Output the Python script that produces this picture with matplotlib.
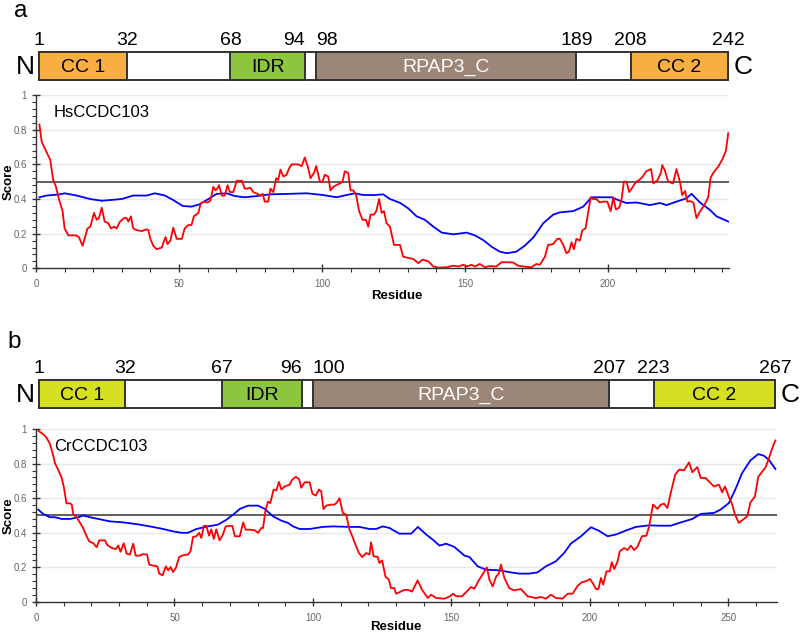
import matplotlib
matplotlib.use("Agg")
import matplotlib.pyplot as plt
from matplotlib.patches import Rectangle
from matplotlib.ticker import MultipleLocator

plt.rcParams['font.family'] = ['Liberation Sans', 'DejaVu Sans']

# ---- panel a : HsCCDC103 ----
hs_name = "HsCCDC103"
hs_len = 242
hs_bounds = [1, 32, 68, 94, 98, 189, 208, 242]
hs_domains = [("CC 1", 1, 32), ("IDR", 68, 94), ("RPAP3_C", 98, 189), ("CC 2", 208, 242)]

hs_iupred_res = [1.2, 2, 3.7, 5, 6, 7, 8, 9.3, 10, 11.3, 12.5, 14, 15, 16.3, 18, 19, 20.3, 21.2, 22, 23,
                 24, 25.3, 26.2, 27.3, 28.2, 29.4, 30.8, 31.7, 32.3, 33.2, 34, 35.2, 37, 38.7, 39.3, 40, 41,
                 42.2, 44, 44.5, 45.3, 46, 47, 48, 49.2, 51, 52, 53.3, 54.4, 55.2, 56.8, 57.6, 58.7, 60, 61,
                 62, 62.8, 63.4, 64, 65, 66, 67, 67.8, 69, 70.2, 72, 73, 74, 75, 76, 77.4, 78.5, 79.3, 80,
                 81.2, 82, 83, 84, 84.7, 85.5, 86.5, 87.6, 88.6, 89.4, 90.6, 91.7, 92.9, 94, 95.2, 96, 97.2,
                 98, 99.3, 100.2, 101, 102.2, 103, 104, 105, 106.3, 107.2, 108, 109.2, 110, 111, 112, 113,
                 114.2, 115.4, 116.2, 117, 118.2, 119, 120, 120.9, 121.7, 122.6, 123.8, 125.2, 126.7, 127.3,
                 128.4, 130, 131.9, 133.7, 135.2, 137.2, 139, 140.7, 143.6, 146, 147.7, 149.4, 150.6, 152.3,
                 153.5, 155.2, 157, 158.7, 161, 162.8, 164.6, 166.9, 168.6, 170.4, 173.3, 175, 176.2, 178,
                 179.1, 180.9, 182.3, 183.2, 184.4, 185.5, 186.4, 187.3, 188.1, 189, 190.2, 191.1, 192.2,
                 193.1, 194, 194.9, 196, 197.2, 198.4, 199.8, 201, 201.9, 202.8, 204, 204.8, 205.6, 206.5,
                 207.5, 209.9, 211.0, 212.2, 213.4, 215.1, 215.9, 217.4, 218.6, 219.0, 219.9, 221.1, 222.8,
                 224, 225.2, 226, 227, 227.8, 228.7, 229.9, 231, 232.2, 233.9, 235.1, 235.9, 236.8, 238.6,
                 240.1, 241.3, 242.1]
hs_iupred = [0.83, 0.73, 0.67, 0.625, 0.51, 0.47, 0.40, 0.33, 0.23, 0.19, 0.19, 0.19, 0.18, 0.13, 0.23,
             0.24, 0.32, 0.28, 0.29, 0.35, 0.27, 0.26, 0.23, 0.24, 0.23, 0.27, 0.29, 0.29, 0.27, 0.30, 0.23,
             0.22, 0.215, 0.225, 0.22, 0.17, 0.13, 0.11, 0.12, 0.145, 0.18, 0.14, 0.16, 0.235, 0.17, 0.17,
             0.23, 0.25, 0.25, 0.30, 0.32, 0.375, 0.385, 0.38, 0.39, 0.47, 0.45, 0.46, 0.48, 0.42, 0.42,
             0.48, 0.44, 0.44, 0.505, 0.505, 0.46, 0.46, 0.465, 0.44, 0.43, 0.42, 0.43, 0.385, 0.385, 0.46,
             0.44, 0.52, 0.51, 0.57, 0.53, 0.54, 0.58, 0.60, 0.60, 0.60, 0.59, 0.64, 0.58, 0.52, 0.55, 0.59,
             0.50, 0.50, 0.54, 0.53, 0.45, 0.47, 0.48, 0.49, 0.50, 0.56, 0.55, 0.45, 0.45, 0.42, 0.33, 0.28,
             0.28, 0.24, 0.31, 0.31, 0.33, 0.40, 0.32, 0.33, 0.26, 0.24, 0.135, 0.135, 0.135, 0.067, 0.06,
             0.054, 0.03, 0.05, 0.04, 0.01, 0.004, 0.006, 0.015, 0.01, 0.02, 0.01, 0.02, 0.01, 0.025, 0.006,
             0.013, 0.01, 0.035, 0.035, 0.033, 0.015, 0.01, 0.006, 0.025, 0.02, 0.067, 0.135, 0.14, 0.17,
             0.17, 0.135, 0.087, 0.096, 0.15, 0.11, 0.17, 0.16, 0.22, 0.23, 0.32, 0.41, 0.40, 0.40, 0.38,
             0.385, 0.385, 0.33, 0.41, 0.34, 0.35, 0.40, 0.50, 0.50, 0.44, 0.50, 0.51, 0.53, 0.56, 0.573,
             0.49, 0.51, 0.554, 0.596, 0.567, 0.50, 0.49, 0.573, 0.50, 0.423, 0.446, 0.385, 0.388, 0.38,
             0.29, 0.327, 0.37, 0.41, 0.52, 0.55, 0.587, 0.63, 0.68, 0.78]

hs_anchor_res = [1.2, 3.7, 8.4, 10, 14.2, 18.9, 23, 25.9, 30, 34, 38.7, 41.6, 45.1, 48, 51.3, 54.4, 57.3,
                 60.3, 63.2, 66.7, 69.6, 73, 77.2, 81.8, 88.8, 94.6, 100.5, 105.1, 108.6, 111.5, 114.5,
                 118.5, 121.4, 123.8, 127.3, 130.2, 133.1, 136, 139, 141.9, 146, 150.6, 153.5, 156.4, 159.3,
                 162.2, 164.6, 168, 170.9, 173.9, 177.4, 180.9, 183.2, 187.9, 191.4, 194.3, 197.2, 201.3,
                 204.2, 206.5, 210, 214.7, 218.2, 220.5, 224, 227.5, 229.3, 232.2, 235.7, 238, 242.1]
hs_anchor = [0.41, 0.42, 0.427, 0.433, 0.42, 0.40, 0.39, 0.394, 0.40, 0.42, 0.42, 0.433, 0.42, 0.394, 0.36,
             0.356, 0.37, 0.40, 0.43, 0.433, 0.417, 0.41, 0.417, 0.427, 0.43, 0.433, 0.423, 0.41, 0.423,
             0.433, 0.423, 0.423, 0.427, 0.40, 0.378, 0.346, 0.30, 0.28, 0.24, 0.206, 0.196, 0.206, 0.19,
             0.163, 0.125, 0.096, 0.087, 0.096, 0.13, 0.177, 0.26, 0.31, 0.323, 0.33, 0.356, 0.41, 0.41,
             0.41, 0.39, 0.377, 0.38, 0.365, 0.377, 0.365, 0.385, 0.404, 0.43, 0.38, 0.337, 0.30, 0.27]

# ---- panel b : CrCCDC103 ----
cr_name = "CrCCDC103"
cr_len = 267
cr_bounds = [1, 32, 67, 96, 100, 207, 223, 267]
cr_domains = [("CC 1", 1, 32), ("IDR", 67, 96), ("RPAP3_C", 100, 207), ("CC 2", 223, 267)]

cr_iupred_res = [0.8, 2.6, 3.8, 5, 6, 6.9, 8, 9.3, 10.1, 11, 12.3, 12.9, 13.5, 14.4, 15.6, 17, 18, 19.2,
                 20.7, 21.9, 22.8, 24.9, 25.7, 27.3, 28.8, 29.7, 30.5, 31.7, 32.7, 33.9, 35.1, 36, 37.5,
                 38.7, 40.1, 40.9, 42.3, 43.8, 44.5, 45.7, 46.9, 47.7, 48.6, 49.5, 50.5, 51.7, 53.1, 54.9,
                 55.8, 56.7, 57.9, 58.9, 59.7, 60.6, 61.5, 62.5, 63.3, 64.2, 65.1, 66.3, 67.5, 68.5, 70,
                 70.9, 71.8, 73.6, 74.8, 75.7, 77.2, 79, 80.2, 81.4, 82, 82.9, 83.8, 84.6, 85.8, 86.8, 87.7,
                 88.6, 89.8, 91.6, 92.5, 93.8, 95, 95.8, 97, 98.8, 99.8, 101, 102.2, 103, 103.8, 104.8,
                 106.6, 107.8, 108.7, 109.6, 110.8, 112, 113.2, 114.2, 115.4, 116.6, 117.8, 119.2, 120.4,
                 121, 121.9, 123.4, 124, 125, 126.2, 127.4, 128.2, 129.4, 130, 131.2, 133, 134.3, 135.8,
                 137.8, 139.4, 141.5, 142.7, 144.5, 147.5, 149.5, 150.6, 151.7, 153.8, 155.3, 157.1, 158.3,
                 160.1, 162.8, 163.7, 164.9, 166.1, 167.1, 167.9, 169.1, 170.9, 172.7, 175.1, 177.5, 180.5,
                 182.3, 184.1, 185.9, 187.7, 190.1, 192, 193.8, 195.6, 197.1, 198.6, 200, 201, 202.2,
                 203.1, 204, 204.8, 206, 207.2, 207.9, 208.8, 210, 210.8, 212.4, 213.6, 214.8, 216, 217.2,
                 218.8, 220.4, 221.4, 222.8, 224.4, 225.6, 226.8, 228, 229.2, 230.8, 232.2, 234, 235.8, 237,
                 238.8, 240, 241.8, 243, 244.8, 246.6, 247.8, 248.8, 250.2, 251.4, 252.4, 253.8, 255.3,
                 256.8, 258, 259.6, 260.8, 262.3, 263.5, 264.9, 266.1, 267]
cr_iupred = [0.99, 0.97, 0.95, 0.915, 0.86, 0.80, 0.765, 0.717, 0.66, 0.57, 0.57, 0.563, 0.505, 0.495,
             0.466, 0.428, 0.39, 0.35, 0.34, 0.316, 0.356, 0.356, 0.33, 0.312, 0.306, 0.326, 0.29, 0.34,
             0.28, 0.274, 0.337, 0.268, 0.268, 0.277, 0.274, 0.216, 0.21, 0.206, 0.164, 0.154, 0.206, 0.183,
             0.202, 0.173, 0.197, 0.26, 0.27, 0.274, 0.293, 0.376, 0.38, 0.40, 0.37, 0.44, 0.44, 0.383,
             0.42, 0.364, 0.42, 0.356, 0.39, 0.437, 0.44, 0.44, 0.38, 0.38, 0.46, 0.418, 0.418, 0.414, 0.40,
             0.428, 0.428, 0.534, 0.58, 0.572, 0.65, 0.645, 0.694, 0.65, 0.668, 0.678, 0.707, 0.723, 0.71,
             0.66, 0.692, 0.692, 0.626, 0.615, 0.65, 0.64, 0.537, 0.557, 0.563, 0.563, 0.576, 0.60, 0.514,
             0.505, 0.418, 0.38, 0.33, 0.283, 0.26, 0.283, 0.274, 0.345, 0.264, 0.26, 0.225, 0.24, 0.145,
             0.13, 0.08, 0.08, 0.048, 0.056, 0.07, 0.07, 0.06, 0.125, 0.07, 0.023, 0.042, 0.023, 0.019,
             0.033, 0.048, 0.033, 0.033, 0.056, 0.087, 0.077, 0.13, 0.20, 0.13, 0.09, 0.145, 0.164, 0.216,
             0.14, 0.08, 0.067, 0.075, 0.033, 0.023, 0.029, 0.019, 0.042, 0.023, 0.019, 0.048, 0.048, 0.094,
             0.114, 0.12, 0.133, 0.11, 0.075, 0.075, 0.139, 0.10, 0.177, 0.177, 0.23, 0.19, 0.235, 0.293,
             0.312, 0.30, 0.326, 0.30, 0.32, 0.38, 0.383, 0.437, 0.563, 0.538, 0.563, 0.568, 0.543, 0.63,
             0.736, 0.765, 0.761, 0.807, 0.75, 0.78, 0.717, 0.717, 0.697, 0.668, 0.678, 0.634, 0.668, 0.607,
             0.563, 0.505, 0.457, 0.476, 0.495, 0.576, 0.61, 0.723, 0.755, 0.78, 0.842, 0.90, 0.934]

cr_anchor_res = [0.8, 2.6, 5, 6.9, 9.3, 12.3, 15.3, 17, 19.5, 22.5, 26.7, 31.5, 36.3, 41.1, 45.9, 49.5,
                 52.5, 54.9, 57.9, 62.1, 65.7, 68.8, 71.2, 73.6, 76.6, 80.2, 82.6, 85.6, 88.6, 91, 92.8,
                 95.2, 98.8, 103.6, 107.2, 113.2, 116.8, 120.4, 122.8, 125.2, 127.6, 131.2, 135.5, 137.9,
                 140.9, 143.3, 145.7, 148.1, 151.1, 154.7, 156.5, 159.5, 162.5, 167.3, 171.5, 174.5, 178.1,
                 181.1, 184.1, 187.7, 190.7, 193.1, 196.8, 200.4, 203.1, 206.4, 209.4, 213, 216.6, 221.4,
                 225, 229.2, 232.2, 237, 240, 244.8, 247.2, 250.2, 252.6, 255, 258, 260.8, 262.8, 264.6, 267]
cr_anchor = [0.534, 0.509, 0.49, 0.49, 0.48, 0.48, 0.49, 0.50, 0.49, 0.48, 0.466, 0.46, 0.45, 0.437, 0.422,
             0.408, 0.40, 0.40, 0.422, 0.437, 0.447, 0.476, 0.505, 0.538, 0.557, 0.557, 0.538, 0.495, 0.47,
             0.457, 0.437, 0.422, 0.422, 0.434, 0.437, 0.434, 0.434, 0.422, 0.422, 0.437, 0.428, 0.395,
             0.395, 0.434, 0.39, 0.36, 0.326, 0.337, 0.318, 0.268, 0.26, 0.206, 0.187, 0.183, 0.171, 0.164,
             0.164, 0.171, 0.206, 0.235, 0.283, 0.337, 0.38, 0.432, 0.413, 0.38, 0.39, 0.413, 0.434, 0.443,
             0.441, 0.441, 0.457, 0.48, 0.509, 0.515, 0.534, 0.572, 0.653, 0.746, 0.819, 0.855, 0.846,
             0.823, 0.769]

threshold = 0.5

dom_colors_a = {"CC 1": "#F9AE42", "IDR": "#8CC63F", "RPAP3_C": "#9C8678", "CC 2": "#F9AE42"}
dom_colors_b = {"CC 1": "#D7DF23", "IDR": "#8CC63F", "RPAP3_C": "#9C8678", "CC 2": "#D7DF23"}


def draw_bar(ax, length, domains, bounds, colors, xmax):
    ax.set_xlim(0, xmax)
    ax.set_ylim(0, 1)
    ax.axis("off")
    ax.add_patch(Rectangle((1, 0), length - 1, 1, facecolor="white", edgecolor="#333333", lw=1.4,
                           clip_on=False))
    for name, s, e in domains:
        ax.add_patch(Rectangle((s, 0), e - s, 1, facecolor=colors[name], edgecolor="#333333", lw=1.4,
                               clip_on=False))
        ax.text((s + e) / 2, 0.45, name, ha="center", va="center", fontsize=14,
                color="white" if name == "RPAP3_C" else "black")
    # boundary numbers; the two close ones around the small gap are pushed apart
    for i, b in enumerate(bounds):
        ha = "center"
        if i == 3:
            ha = "right"
        elif i == 4:
            ha = "left"
        ax.text(b, 1.12, str(b), ha=ha, va="bottom", fontsize=14)
    ax.text(-0.5, 0.45, "N", ha="right", va="center", fontsize=19)
    ax.text(length + 2, 0.45, "C", ha="left", va="center", fontsize=19)


def draw_plot(ax, name, xmax, r_res, r_val, b_res, b_val):
    ax.set_xlim(0, xmax)
    ax.set_ylim(0, 1)
    for y in [0.2, 0.4, 0.6, 0.8, 1.0]:
        ax.axhline(y, color="#e8e8e8", lw=1, zorder=0)
    ax.axhline(threshold, color="#444444", lw=1.2, zorder=1)
    ax.plot(b_res, b_val, color="#0000FF", lw=1.3, zorder=2)
    ax.plot(r_res, r_val, color="#FF0000", lw=1.3, zorder=3)
    for s in ["top", "right"]:
        ax.spines[s].set_visible(False)
    for s in ["left", "bottom"]:
        ax.spines[s].set_color("#333333")
        ax.spines[s].set_linewidth(1.0)
    ax.xaxis.set_major_locator(MultipleLocator(50))
    ax.xaxis.set_minor_locator(MultipleLocator(10))
    ax.yaxis.set_major_locator(MultipleLocator(0.2))
    ax.yaxis.set_minor_locator(MultipleLocator(0.04))
    ax.tick_params(axis="both", which="major", direction="inout", length=6, width=1, color="#333333",
                   labelsize=7, labelcolor="#666666")
    ax.tick_params(axis="both", which="minor", direction="out", length=3, width=0.8, color="#333333")
    ax.tick_params(axis="x", which="major", pad=5)
    ax.yaxis.set_major_formatter(matplotlib.ticker.FuncFormatter(lambda v, p: f"{v:g}"))
    ax.text(0.025, 0.9, name, transform=ax.transAxes, fontsize=12, ha="left", va="center")
    ax.set_ylabel("Score", fontsize=9.5, fontweight="bold")
    ax.set_xlabel("Residue", fontsize=9.5, fontweight="bold")


fig = plt.figure(figsize=(8, 6.32), dpi=100)

xmax_a = 242.3
xmax_b = 267.5

bar_a = fig.add_axes([0.045, 0.8734, 0.866, 0.0443])
draw_bar(bar_a, hs_len, hs_domains, hs_bounds, dom_colors_a, xmax_a)
ax_a = fig.add_axes([0.045, 0.5755, 0.866, 0.274])
draw_plot(ax_a, hs_name, xmax_a, hs_iupred_res, hs_iupred, hs_anchor_res, hs_anchor)
ax_a.xaxis.set_label_coords(0.521, -0.125)
ax_a.yaxis.set_label_coords(-0.031, 0.5)

bar_b = fig.add_axes([0.045, 0.3544, 0.926, 0.0443])
draw_bar(bar_b, cr_len, cr_domains, cr_bounds, dom_colors_b, xmax_b)
ax_b = fig.add_axes([0.045, 0.0475, 0.926, 0.2737])
draw_plot(ax_b, cr_name, xmax_b, cr_iupred_res, cr_iupred, cr_anchor_res, cr_anchor)
ax_b.xaxis.set_label_coords(0.486, -0.108)
ax_b.yaxis.set_label_coords(-0.029, 0.5)

fig.text(14 / 800, 1 - 17 / 632, "a", fontsize=17.5, va="baseline", ha="left")
fig.text(7 / 800, 1 - 348 / 632, "b", fontsize=17.5, va="baseline", ha="left")

fig.savefig("out.png", dpi=100)
